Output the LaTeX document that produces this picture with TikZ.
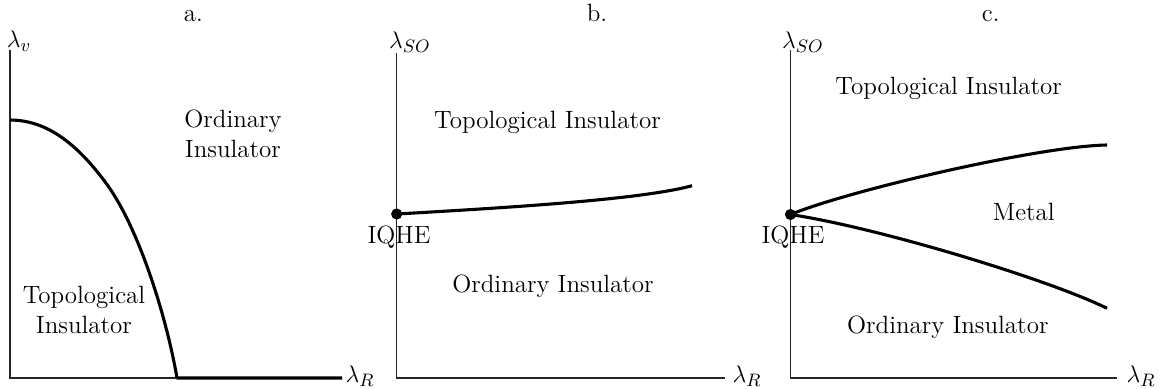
\documentclass[tikz,border=0pt]{standalone}
\begin{document}
\begin{tikzpicture}[x=0.5pt,y=-0.5pt,
  every node/.style={inner sep=0pt,font=\fontsize{12.5pt}{15.2pt}\selectfont},
  axisline/.style={line width=0.55pt,black!85},
  phase/.style={line width=1.55pt,black},
  dotmark/.style={circle,fill=black,minimum size=5.6pt,inner sep=0pt},
  lbl/.style={anchor=base},
  lbl2/.style={align=center,anchor=center}]
\useasboundingbox (0,0) rectangle (1160,388);

% ---------- panel a ----------
\coordinate (aO) at (10,378);
\coordinate (aY) at (10,50);
\coordinate (aX) at (342,378);
\draw[axisline] (aY) -- (aO) -- (aX);
\node (aYl) at (19,41) {$\lambda_v$};
\node (aXl) at (360,376) {$\lambda_R$};
\node[lbl] (atitle) at (193.5,21.5) {a.};
\coordinate (aS) at (10,120);
\coordinate (aM) at (105,181.7);
\coordinate (aE) at (177,378);
\draw[phase,line join=round] (aS) .. controls (50,120) and (80,148.4) .. (aM)
  .. controls (140,228.3) and (167.5,322) .. (aE) -- (aX);
\node[lbl2] (aord) at (233,134) {Ordinary\\Insulator};
\node[lbl2] (atop) at (84,310) {Topological\\Insulator};

% ---------- panel b ----------
\coordinate (bO) at (396.7,378);
\coordinate (bY) at (396.7,53);
\coordinate (bX) at (725,378);
\draw[axisline] (bY) -- (bO) -- (bX);
\node (bYl) at (410,42) {$\lambda_{SO}$};
\node (bXl) at (747,376) {$\lambda_R$};
\node[lbl] (btitle) at (597,21.5) {b.};
\node[dotmark] (bdot) at (396.7,214) {};
\coordinate (bend) at (692,185.7);
\draw[phase] (bdot.center) .. controls (500,208) and (640,200) .. (bend);
\node[lbl] (biqhe) at (399,243) {IQHE};
\node[lbl] (btop) at (547.5,128.3) {Topological Insulator};
\node[lbl] (bord) at (553,292.3) {Ordinary Insulator};

% ---------- panel c ----------
\coordinate (cO) at (790.5,378);
\coordinate (cY) at (790.5,50);
\coordinate (cX) at (1117,378);
\draw[axisline] (cY) -- (cO) -- (cX);
\node (cYl) at (803,42) {$\lambda_{SO}$};
\node (cXl) at (1141,376) {$\lambda_R$};
\node[lbl] (ctitle) at (990.8,21.5) {c.};
\node[dotmark] (cdot) at (790.5,214.5) {};
\coordinate (cup) at (1107,145);
\coordinate (clow) at (1107,308.3);
\draw[phase] (cdot.center) .. controls (850,190) and (1040,146) .. (cup);
\draw[phase] (cdot.center) .. controls (880,228) and (1050,280) .. (clow);
\node[lbl] (ciqhe) at (793,243.3) {IQHE};
\node[lbl] (ctop) at (948.7,94) {Topological Insulator};
\node[lbl] (cmetal) at (1023.8,220) {Metal};
\node[lbl] (cord) at (947.8,333.3) {Ordinary Insulator};
\end{tikzpicture}
\end{document}
